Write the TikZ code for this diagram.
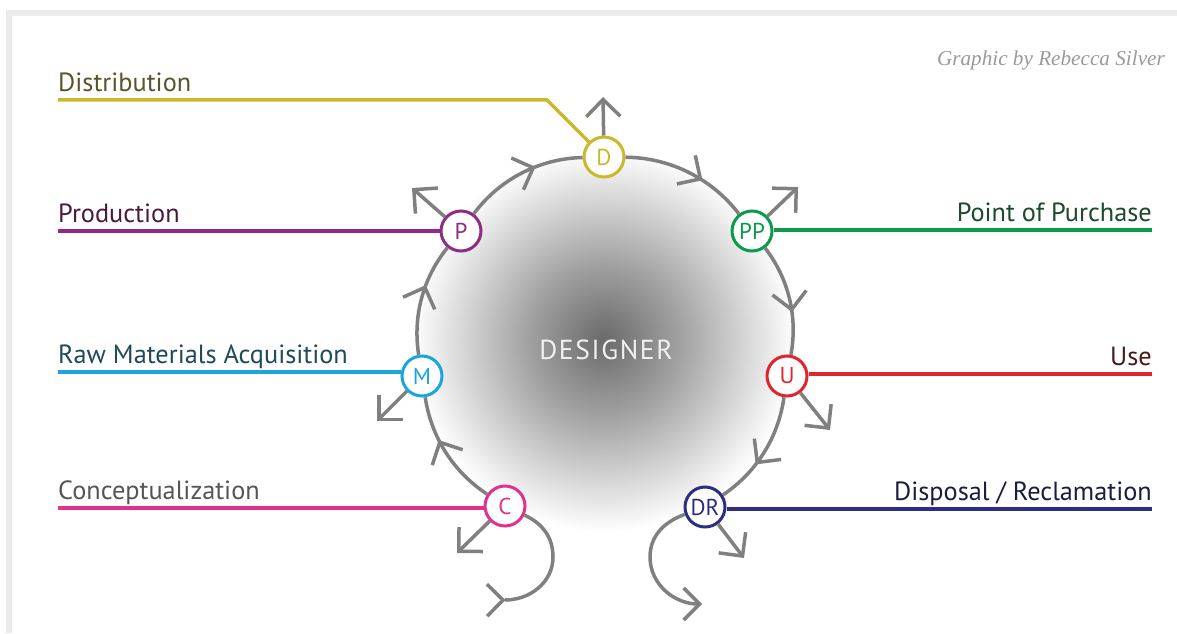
\documentclass[tikz,border=0pt]{standalone}
\usepackage{fontspec}
\setmainfont{PT Sans}
\newfontfamily\creditfont{Liberation Serif}
\newfontfamily\designerfont[LetterSpace=6]{PT Sans}
\usetikzlibrary{arrows.meta,decorations.markings}
\definecolor{arcgray}{HTML}{808080}
\definecolor{framegray}{HTML}{EBEBEB}
\definecolor{glowdark}{HTML}{6A6A6A}
\definecolor{glowmid}{HTML}{A2A2A2}
\definecolor{credittext}{HTML}{9A9A9A}
\definecolor{designertext}{HTML}{F0F0F0}
\definecolor{cD}{HTML}{C8B82A}\definecolor{tD}{HTML}{5A5528}
\definecolor{cP}{HTML}{8E2B84}\definecolor{tP}{HTML}{4A1A3E}
\definecolor{cM}{HTML}{1BA5DD}\definecolor{tM}{HTML}{1E4A5A}
\definecolor{cC}{HTML}{E2318C}\definecolor{tC}{HTML}{555555}
\definecolor{cPP}{HTML}{0B9A4B}\definecolor{tPP}{HTML}{1B4A2C}
\definecolor{cU}{HTML}{E0262B}\definecolor{tU}{HTML}{4A1A1A}
\definecolor{cDR}{HTML}{2B2E82}\definecolor{tDR}{HTML}{1C1C40}
\pgfdeclareradialshading{glow}{\pgfpoint{0bp}{0bp}}{color(0bp)=(glowdark); color(10bp)=(glowmid); color(25bp)=(white); color(50bp)=(white)}
\begin{document}
\begin{tikzpicture}[x=1pt,y=1pt,
  arcline/.style={draw=arcgray, line width=3.5pt},
  stage/.style={circle, draw, line width=3pt, fill=white, minimum size=40pt, inner sep=0pt, font=\fontsize{23}{23}\selectfont},
  colline/.style={line width=3.5pt},
  lbl/.style={inner sep=0pt, font=\fontsize{26.3}{26.3}\selectfont},
  midarrow/.style={postaction={decorate}, decoration={markings, mark=at position 0.62 with {\arrow{Straight Barb[length=17pt,width=34pt]}}}},
  startarrow/.style={postaction={decorate}, decoration={markings, mark=at position 0.5pt with {\arrow{Straight Barb[length=16pt,width=32pt]}}}},
  outarrow/.style={arcline, -{Straight Barb[length=17pt,width=34pt]}},
  seg/.style={arcline, midarrow, bend left=#1, looseness=0.9}
]
\useasboundingbox (0,0) rectangle (1177,633);
\fill[white] (0,0) rectangle (1177,633);
\fill[framegray] (6,617) rectangle (1177,623);
\fill[framegray] (6,0) rectangle (12,623);
\shade[shading=glow] (604,293) circle[radius=192pt];

% stages
\node[stage, draw=cD, text=cD] (D) at (604,476) {D};
\node[stage, draw=cP, text=cP] (P) at (461,402) {P};
\node[stage, draw=cPP, text=cPP] (PP) at (752,402) {PP};
\node[stage, draw=cM, text=cM] (M) at (422,257) {M};
\node[stage, draw=cU, text=cU] (U) at (787,257) {U};
\node[stage, draw=cC, text=cC] (C) at (505,127) {C};
\node[stage, draw=cDR, text=cDR] (DR) at (705,126) {DR};

\node[text=designertext, font=\designerfont\fontsize{27.5}{27.5}\selectfont] (designer) at (606,283) {DESIGNER};
\node[anchor=base east, inner sep=0pt, text=credittext, font=\creditfont\itshape\fontsize{21.2}{21.2}\selectfont] (credit) at (1165,567) {Graphic by Rebecca Silver};

% cycle arcs
\draw[seg=24] (C) to (M);
\draw[seg=24] (M) to (P);
\draw[seg=26] (P) to (D);
\draw[seg=26] (D) to (PP);
\draw[seg=24] (PP) to (U);
\draw[seg=24] (U) to (DR);

% outward arrows
\coordinate (Dt) at (603,536);
\coordinate (Pt) at (412,445);
\coordinate (PPt) at (798,446);
\coordinate (Mt) at (377,212);
\coordinate (Ut) at (830,203);
\coordinate (Ct) at (457,80);
\coordinate (DRt) at (744,75);
\draw[outarrow] (D) -- (Dt);
\draw[outarrow] (P) -- (Pt);
\draw[outarrow] (PP) -- (PPt);
\draw[outarrow] (M) -- (Mt);
\draw[outarrow] (U) -- (Ut);
\draw[outarrow] (C) -- (Ct);
\draw[outarrow] (DR) -- (DRt);

% loops
\coordinate (Ce) at (505,33);
\coordinate (Cr) at (553,76);
\draw[arcline, startarrow] (Ce) to[out=0,in=-90] (Cr) to[out=90,in=-25] (C);
\coordinate (DRl) at (650,76);
\coordinate (DRe) at (702,29);
\draw[arcline, -{Straight Barb[length=16pt,width=32pt]}] (DR) to[out=200,in=90] (DRl) to[out=-90,in=180] (DRe);

% labels and leader lines
\node[lbl, anchor=base west, text=tD] (LD) at (58,541) {Distribution};
\coordinate (dA) at (58,533);
\coordinate (dB) at (547,533);
\draw[colline, draw=cD] (dA) -- (dB) -- (D);

\node[lbl, anchor=base west, text=tP] (LP) at (58,410) {Production};
\coordinate (pA) at (58,402);
\draw[colline, draw=cP] (pA) -- (pA -| P.west);

\node[lbl, anchor=base west, text=tM] (LM) at (58,270) {Raw Materials Acquisition};
\coordinate (mA) at (58,261);
\draw[colline, draw=cM] (mA) -- (mA -| M.west);

\node[lbl, anchor=base west, text=tC] (LC) at (58,134) {Conceptualization};
\coordinate (cA) at (58,125);
\draw[colline, draw=cC] (cA) -- (cA -| C.west);

\node[lbl, anchor=base east, text=tPP] (LPP) at (1152,411) {Point of Purchase};
\coordinate (ppA) at (1152,403);
\draw[colline, draw=cPP] (ppA) -- (ppA -| PP.east);

\node[lbl, anchor=base east, text=tU] (LU) at (1152,268) {Use};
\coordinate (uA) at (1152,259);
\draw[colline, draw=cU] (uA) -- (uA -| U.east);

\node[lbl, anchor=base east, text=tDR] (LDR) at (1152,133) {Disposal / Reclamation};
\coordinate (drA) at (1152,124);
\draw[colline, draw=cDR] (drA) -- (drA -| DR.east);
\end{tikzpicture}
\end{document}
